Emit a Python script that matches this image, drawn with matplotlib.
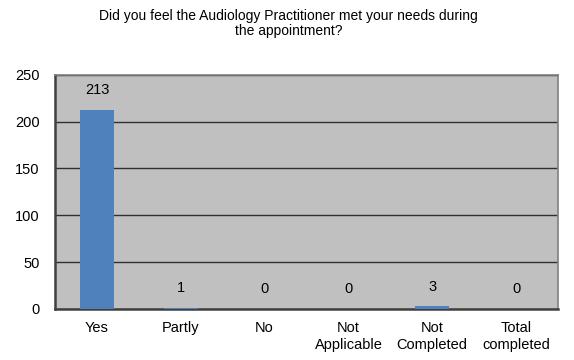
import matplotlib.pyplot as plt

plt.rcParams['font.family'] = ['Liberation Sans', 'DejaVu Sans']

categories = ['Yes', 'Partly', 'No', 'Not\nApplicable', 'Not\nCompleted', 'Total\ncompleted']
counts = [213, 1, 0, 0, 3, 0]

fig = plt.figure(figsize=(5.74, 3.6), dpi=100)
ax = fig.add_axes([0.096, 0.142, 0.876, 0.650])
ax.set_facecolor('#C0C0C0')

x = range(len(categories))
ax.bar(x, counts, 0.41, color='#4F81BD', zorder=3)
for i, v in zip(x, counts):
    ax.annotate(str(v), (i, v), xytext=(0, 9), textcoords='offset points',
                ha='center', va='bottom', fontsize=10.5)

ax.set_xlim(-0.5, len(categories) - 0.5)
ax.set_ylim(0, 250)
ax.set_yticks(range(0, 251, 50))
ax.yaxis.grid(True, color='#303030', linewidth=1.0, zorder=1)
ax.set_xticks(list(x))
ax.set_xticklabels(categories, fontsize=10.5, linespacing=1.2)
ax.tick_params(axis='y', labelsize=10.5, length=0, pad=11)
ax.tick_params(axis='x', length=0, pad=9)
for side in ['left', 'bottom']:
    ax.spines[side].set_color('#404040')
    ax.spines[side].set_linewidth(1.8)
for side in ['top', 'right']:
    ax.spines[side].set_color('#808080')
    ax.spines[side].set_linewidth(1.2)

fig.text(0.503, 0.975, 'Did you feel the Audiology Practitioner met your needs during\nthe appointment?',
         ha='center', va='top', fontsize=10, linespacing=1.1)

fig.savefig('out.png', dpi=100)
